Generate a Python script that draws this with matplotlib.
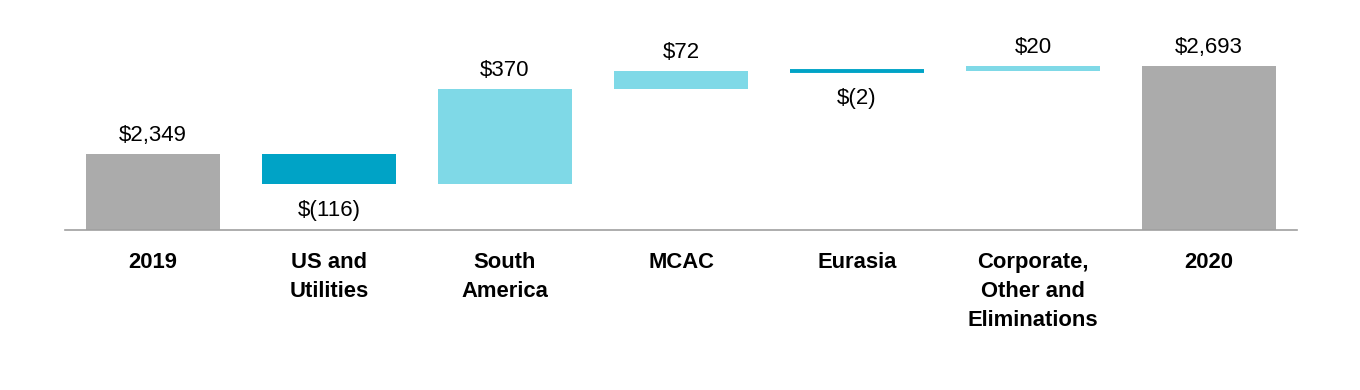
import matplotlib
matplotlib.use("Agg")
import matplotlib.pyplot as plt

categories = ["2019", "US and\nUtilities", "South\nAmerica", "MCAC", "Eurasia",
              "Corporate,\nOther and\nEliminations", "2020"]
changes = [2349, -116, 370, 72, -2, 20, 2693]
labels = ["$2,349", "$(116)", "$370", "$72", "$(2)", "$20", "$2,693"]
kinds = ["total", "delta", "delta", "delta", "delta", "delta", "total"]

GRAY = "#ABABAB"
DARK = "#00A3C6"
LIGHT = "#7FD9E7"

plt.rcParams['font.family'] = ['Liberation Sans', 'DejaVu Sans']

fig = plt.figure(figsize=(13.6, 3.9), dpi=100)
ax = fig.add_axes([65/1360, (390-230)/390, 1232/1360, 220/390])

y_min = 2052
scale = 0.2558  # px per unit
ax.set_ylim(y_min, y_min + 220/scale)
ax.set_xlim(-0.5, len(categories) - 0.5)

running = 0
for i, (c, lab, k) in enumerate(zip(changes, labels, kinds)):
    if k == "total":
        bottom = y_min
        height = c - y_min
        color = GRAY
        running = c
        top = c
    else:
        bottom = running
        height = c
        color = LIGHT if c > 0 else DARK
        running = running + c
        top = max(bottom, running)
    lw = 2.8 if abs(c) < 5 else 0
    ax.bar(i, height, bottom=bottom, width=0.76, color=color,
           edgecolor=color, linewidth=lw)
    if c >= 0:
        ax.annotate(lab, (i, top), xytext=(0, 13), textcoords="offset points",
                    ha="center", va="center", fontsize=16, color="black")
    else:
        low = min(bottom, running)
        ax.annotate(lab, (i, low), xytext=(0, -19.5), textcoords="offset points",
                    ha="center", va="center", fontsize=16, color="black")

ax.set_xticks(range(len(categories)))
ax.set_xticklabels(categories, fontsize=15.8, fontweight="bold", linespacing=1.5,
                   va="top")
ax.tick_params(axis="x", length=0, pad=16)
ax.set_yticks([])
for s in ["left", "right", "top"]:
    ax.spines[s].set_visible(False)
ax.spines["bottom"].set_color("#A0A0A0")
ax.spines["bottom"].set_linewidth(1.2)

fig.savefig("out.png", dpi=100)
